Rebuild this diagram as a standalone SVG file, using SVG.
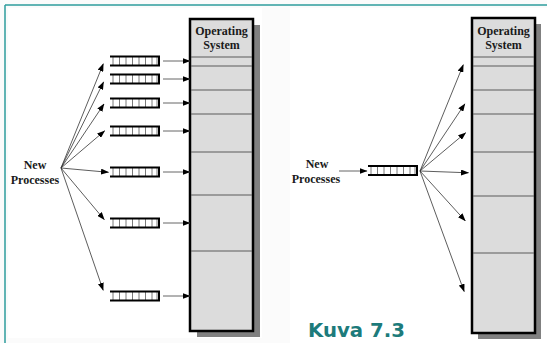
<svg xmlns="http://www.w3.org/2000/svg" width="547" height="343" viewBox="0 0 547 343">
<style>
.lbl{font-family:"Liberation Serif","Times New Roman",serif;font-weight:bold;font-size:12px;fill:#1a1a1a;text-anchor:middle}
.os{fill:#dcdcdc;stroke:#000;stroke-width:2.5}
.shadow{fill:#808080}
.sep{stroke:#5a5a5a;stroke-width:1}
.fan{stroke:#333;stroke-width:0.8;fill:none;marker-end:url(#ah)}
.feed{stroke:#666;stroke-width:1;fill:none;marker-end:url(#ah)}
.qline{stroke:#000;stroke-width:2;fill:none}
.qdiv{stroke:#7a7a7a;stroke-width:1;fill:none}
</style>
<defs>
<marker id="ah" markerUnits="userSpaceOnUse" markerWidth="8" markerHeight="6" refX="7.5" refY="3" orient="auto">
<path d="M0,0 L8,3 L0,6 z" fill="#000"/>
</marker>
<g id="q">
<path class="qdiv" d="M3,-4.5V4.5M9.5,-4.5V4.5M16,-4.5V4.5M22.5,-4.5V4.5M29,-4.5V4.5M35.5,-4.5V4.5M42,-4.5V4.5M47,-4.5V4.5"/>
<path class="qline" d="M0,-4.5H50M0,4.5H50M49,-5.5V5.5"/>
</g>
</defs>
<rect x="0" y="0" width="547" height="343" fill="#fbfbfb"/>
<rect x="8" y="8" width="254" height="330" fill="#fff"/>
<rect x="290" y="8" width="257" height="335" fill="#fff"/>
<path d="M5,5H547M5,5V343" stroke="#2f9d9d" stroke-width="1.5" fill="none"/>

<g id="os-left">
<rect class="shadow" x="197" y="25" width="63" height="312"/>
<rect class="os" x="190" y="19" width="63" height="312"/>
<path class="sep" d="M191,57H252M191,66H252M191,90H252M191,114H252M191,152H252M191,195H252M191,251H252"/>
<text class="lbl" x="221.5" y="35">Operating</text>
<text class="lbl" x="221.5" y="48.5">System</text>
</g>

<g id="os-right">
<rect class="shadow" x="478" y="24" width="63" height="315"/>
<rect class="os" x="472" y="18" width="63" height="315"/>
<path class="sep" d="M473,57H534M473,66H534M473,90H534M473,114H534M473,152H534M473,196H534M473,253H534"/>
<text class="lbl" x="503.5" y="35">Operating</text>
<text class="lbl" x="503.5" y="48.5">System</text>
</g>

<g id="new-left">
<text class="lbl" x="35" y="169">New</text>
<text class="lbl" x="35" y="184">Processes</text>
</g>
<g id="new-right">
<text class="lbl" x="317" y="168">New</text>
<text class="lbl" x="316" y="183">Processes</text>
</g>

<g id="queues-left">
<use href="#q" x="110" y="61"/>
<use href="#q" x="110" y="79"/>
<use href="#q" x="110" y="103"/>
<use href="#q" x="110" y="131"/>
<use href="#q" x="110" y="172"/>
<use href="#q" x="110" y="223"/>
<use href="#q" x="110" y="296"/>
</g>
<g id="queue-right">
<use href="#q" x="368" y="170.5"/>
</g>

<g id="connectors">
<path class="fan" d="M61,168L103.3,63.8"/>
<path class="fan" d="M61,168L103.6,81.9"/>
<path class="fan" d="M61,168L104,104"/>
<path class="fan" d="M61,168L104.7,130.8"/>
<path class="fan" d="M61,168L108.5,172.3"/>
<path class="fan" d="M61,168L104.3,219.7"/>
<path class="fan" d="M61,168L103.2,290.3"/>
<path class="feed" d="M163,61H190"/>
<path class="feed" d="M163,79H190"/>
<path class="feed" d="M163,103H190"/>
<path class="feed" d="M163,131H190"/>
<path class="feed" d="M163,172H190"/>
<path class="feed" d="M163,223H190"/>
<path class="feed" d="M163,296H190"/>
<path class="feed" d="M339,171H367"/>
<path class="fan" d="M420,171L463.3,64.7"/>
<path class="fan" d="M420,171L464.9,103.8"/>
<path class="fan" d="M420,171L465.7,132.7"/>
<path class="fan" d="M420,171L468.5,172.8"/>
<path class="fan" d="M420,171L465.3,220.9"/>
<path class="fan" d="M420,171L464.2,291.6"/>
</g>

<text x="308" y="337" font-family="'DejaVu Sans',Verdana,sans-serif" font-weight="bold" font-size="19" fill="#1d7b7b" textLength="97" lengthAdjust="spacingAndGlyphs">Kuva 7.3</text>
</svg>
